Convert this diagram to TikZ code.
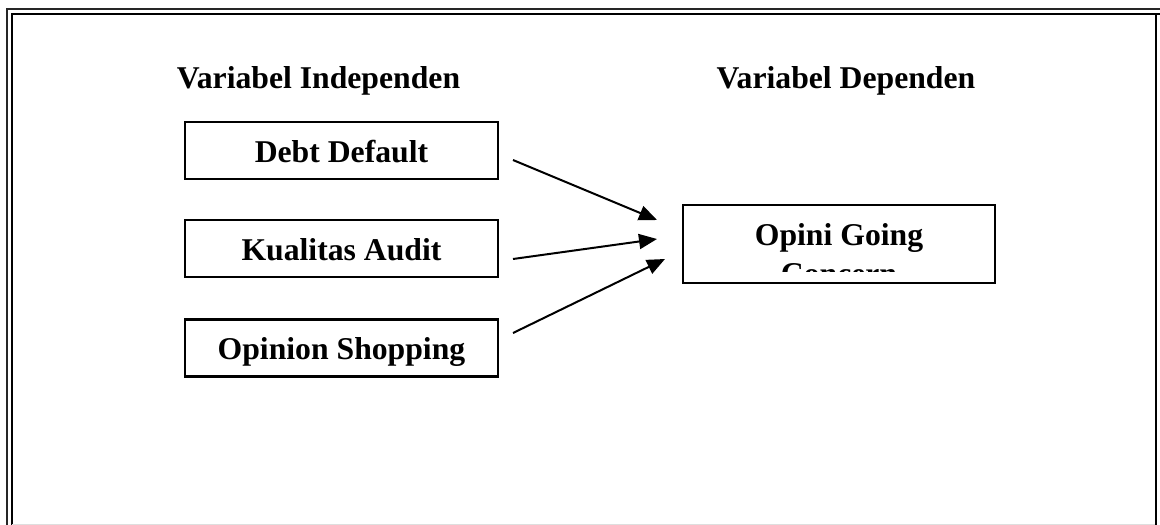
\documentclass[tikz,border=0pt]{standalone}
\usepackage{fontspec}
\setmainfont{Liberation Serif}
\usetikzlibrary{arrows.meta}
\begin{document}
\begin{tikzpicture}[x=1pt,y=-1pt,
  lbl/.style={font=\fontsize{31.7}{39}\selectfont\bfseries, inner sep=0pt},
  varbox/.style={draw, line width=2.2pt, minimum width=313pt, minimum height=57pt,
    inner sep=0pt, text height=27pt, text depth=4pt,
    font=\fontsize{31.7}{39}\selectfont\bfseries},
  arr/.style={line width=2pt, -{Triangle[length=18pt,width=15pt]}}
]
\useasboundingbox (0,0) rectangle (1160,525);
% frame
\draw[line width=2pt, black!85] (6.8,525) -- (6.8,9) -- (1160,9);
\draw[line width=2.4pt] (12.2,525) -- (12.2,14.2) -- (1160,14.2);
\draw[line width=2.4pt] (1155.8,14.2) -- (1155.8,525);
\draw[line width=1pt, black!13] (12,524) -- (1155,524);
% headings
\node[lbl, anchor=base] (hind) at (318.5,88) {Variabel Independen};
\node[lbl, anchor=base] (hdep) at (846,88) {Variabel Dependen};
% independent boxes
\node[varbox] (dd) at (341.5,150.5) {Debt Default};
\node[varbox] (ka) at (341.5,248.5) {Kualitas Audit};
\node[varbox] (os) at (341.5,348) {Opinion Shopping};
% dependent box
\node[draw, line width=2.2pt, minimum width=312pt, minimum height=78pt, inner sep=0pt] (ogc) at (839,244) {};
\begin{scope}
\clip (684,206) rectangle (994,271.7);
\node[lbl, anchor=base] (ogct) at (839,245) {Opini Going};
\node[lbl, anchor=base] (ogct2) at (839,284) {Concern};
\end{scope}
% arrows
\coordinate (a1s) at (513,160);
\coordinate (a1e) at (657,220);
\coordinate (a2s) at (513,259);
\coordinate (a2e) at (657,239);
\coordinate (a3s) at (513,333);
\coordinate (a3e) at (665,259);
\draw[arr] (a1s) -- (a1e);
\draw[arr] (a2s) -- (a2e);
\draw[arr] (a3s) -- (a3e);
\end{tikzpicture}
\end{document}
